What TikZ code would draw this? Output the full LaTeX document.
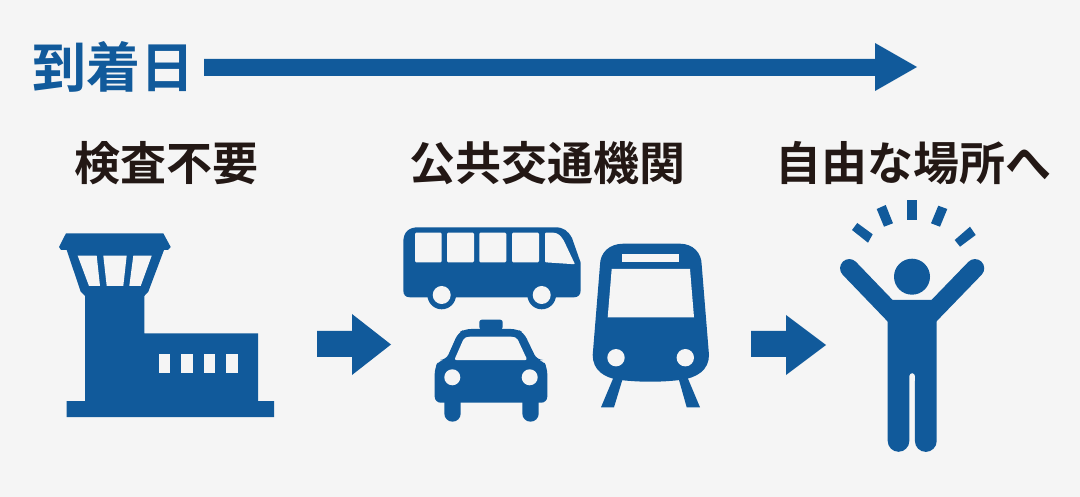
\documentclass[tikz,border=0pt]{standalone}
\usepackage{fontspec}
\newfontfamily\jpfont{Noto Sans CJK JP}[BoldFont={Noto Sans CJK JP Bold}]
\definecolor{iconblue}{HTML}{115A9B}
\definecolor{paper}{HTML}{F5F5F5}
\definecolor{inktext}{HTML}{231815}
\tikzset{
  ico/.style={fill=iconblue,draw=none},
  hole/.style={fill=paper,draw=none},
  lbl/.style={font=\jpfont\bfseries\fontsize{46}{46}\selectfont,text=inktext,inner sep=0pt,anchor=center},
  ttl/.style={font=\jpfont\bfseries\fontsize{54}{54}\selectfont,text=iconblue,inner sep=0pt,anchor=center},
}
\begin{document}
\begin{tikzpicture}[x=1pt,y=-1pt]
\useasboundingbox (0,0) rectangle (1080,497);
\fill[paper] (0,0) rectangle (1080,497);
% timeline
\fill[ico] (204,59) -- (875,59) -- (875,43) -- (917,67) -- (875,91) -- (875,76) -- (204,76) -- cycle;
\node[ttl] (day) at (113.5,67) {到着日};
\node[lbl] (t1) at (166.5,163) {検査不要};
\node[lbl] (t2) at (547.5,163) {公共交通機関};
\node[lbl] (t3) at (913,163) {自由な場所へ};
% tower
\fill[ico] (66,233.3) -- (163.3,233.3) -- (170.7,247) -- (168,250) -- (164,250) -- (148.3,291.7) -- (144.3,296) -- (144.3,333.3) -- (258,333.3) -- (258,401) -- (274,401) -- (274,417) -- (66.7,417) -- (66.7,401) -- (85,401) -- (85,296) -- (80.7,291.7) -- (66.7,250) -- (61,250) -- (59,247) -- cycle;
\fill[hole] (77.7,255.7) -- (96.7,255.7) -- (100,286) -- (89,286) -- cycle;
\fill[hole] (103.3,255.7) -- (126.7,255.7) -- (123.3,286) -- (106.7,286) -- cycle;
\fill[hole] (133.3,255.7) -- (151.7,255.7) -- (140.7,286) -- (129.3,286) -- cycle;
\foreach \xa in {158.7,181.3,203.7,226.3} \fill[hole] (\xa,354) rectangle ++(11.7,19);
% arrow 1
\fill[ico] (317,331) -- (352,331) -- (352,314) -- (391,344.5) -- (352,375) -- (352,357) -- (317,357) -- cycle;
% bus
\fill[ico] (418,227.3) -- (555,227.3) .. controls (564,227.3) and (568,231) .. (572,238) -- (579,258) .. controls (580.5,261) and (580.7,262) .. (580.7,266) -- (580.7,290) .. controls (580.7,295) and (578,297.3) .. (574,297.3) -- (410,297.3) .. controls (405.5,297.3) and (403.3,295) .. (403.3,290) -- (403.3,242) .. controls (403.3,232) and (409,227.3) .. (418,227.3) -- cycle;
\fill[ico] (441.7,295) circle (14.3) (541.7,295) circle (14.3);
\fill[hole] (441.7,295) circle (9) (541.7,295) circle (9);
\foreach \xa/\xb in {415/441.7,447/474,479.3/506.3,512/539}
  \fill[hole,rounded corners=1.2pt] (\xa,232.7) rectangle (\xb,262.3);
\fill[hole,rounded corners=1pt] (545,232.7) -- (553,232.7) .. controls (558,233) and (561,236) .. (564,241) -- (575,264.3) -- (545,262.3) -- cycle;
% taxi
\fill[ico,rounded corners=2.5pt] (479.3,329.5) -- (479.3,319.7) -- (502.7,319.7) -- (502.7,329.5) -- cycle;
\fill[ico,rounded corners=6pt] (465,329) -- (517,329) -- (524,333) -- (537,360) -- (543,360) -- (547.3,368) -- (547.3,402.7) -- (434.7,402.7) -- (434.7,368) -- (439,360) -- (446,360) -- (458,333) -- cycle;
\fill[ico] (444.3,400) -- (460.7,400) -- (460.7,413.5) arc[start angle=0,end angle=180,radius=8.2] -- cycle;
\fill[ico] (522.3,400) -- (538.7,400) -- (538.7,413.5) arc[start angle=0,end angle=180,radius=8.2] -- cycle;
\fill[hole,rounded corners=2pt] (468,336.7) -- (513,336.7) -- (517,338) -- (527.3,360) -- (454.3,360) -- (464,338) -- cycle;
\fill[hole] (452.3,377.3) circle (8) (529.7,377.3) circle (8);
% train
\fill[ico] (613.3,378) -- (622.3,380) -- (614,407.3) -- (601,407.3) -- cycle;
\fill[ico] (679,380) -- (687.7,378) -- (700,407.3) -- (686.7,407.3) -- cycle;
\fill[ico] (623.3,243.7) -- (680,243.7) .. controls (693,243.7) and (701.7,253) .. (701.7,265) -- (709,355) .. controls (709,370) and (697,378) .. (680,380) .. controls (660,382.3) and (641,382.3) .. (620,380) .. controls (604,378) and (592.7,370) .. (592.7,355) -- (600,265) .. controls (600,253) and (609,243.7) .. (623.3,243.7) -- cycle;
\fill[hole] (622.3,254.3) rectangle (679.3,261.7);
\fill[hole] (611.7,269) -- (690,269) -- (694,317.3) -- (607.7,317.3) -- cycle;
\fill[hole] (616,357.7) circle (8.7) (685.3,357.7) circle (8.7);
% arrow 2
\fill[ico] (751,331) -- (786,331) -- (786,315) -- (826,345) -- (786,375) -- (786,357) -- (751,357) -- cycle;
% person
\fill[ico] (912,276.7) circle (18);
\draw[iconblue,line width=18.5pt,line cap=round] (849.3,268.3) -- (900,321);
\draw[iconblue,line width=18.5pt,line cap=round] (975,268.3) -- (924,321);
\fill[ico] (891.7,300) -- (931.7,300) -- (936.7,318) -- (936.7,441) arc[start angle=0,end angle=180,radius=10.9] -- (915,376) arc[start angle=0,end angle=-180,radius=2.85] -- (909.3,441) arc[start angle=0,end angle=180,radius=10.8] -- (887.7,318) -- cycle;
% rays
\fill[ico] (907.3,200) rectangle (917,220);
\fill[ico] (876.7,209) -- (885.7,205) -- (893,223.3) -- (884,226.7) -- cycle;
\fill[ico] (857.3,223) -- (872.7,234.3) -- (868,242.7) -- (852,230) -- cycle;
\fill[ico] (947.3,209) -- (938.3,205.7) -- (931,223.3) -- (940,226.7) -- cycle;
\fill[ico] (970,226.7) -- (975.7,235) -- (960,246.7) -- (954.7,240) -- cycle;
\end{tikzpicture}
\end{document}
